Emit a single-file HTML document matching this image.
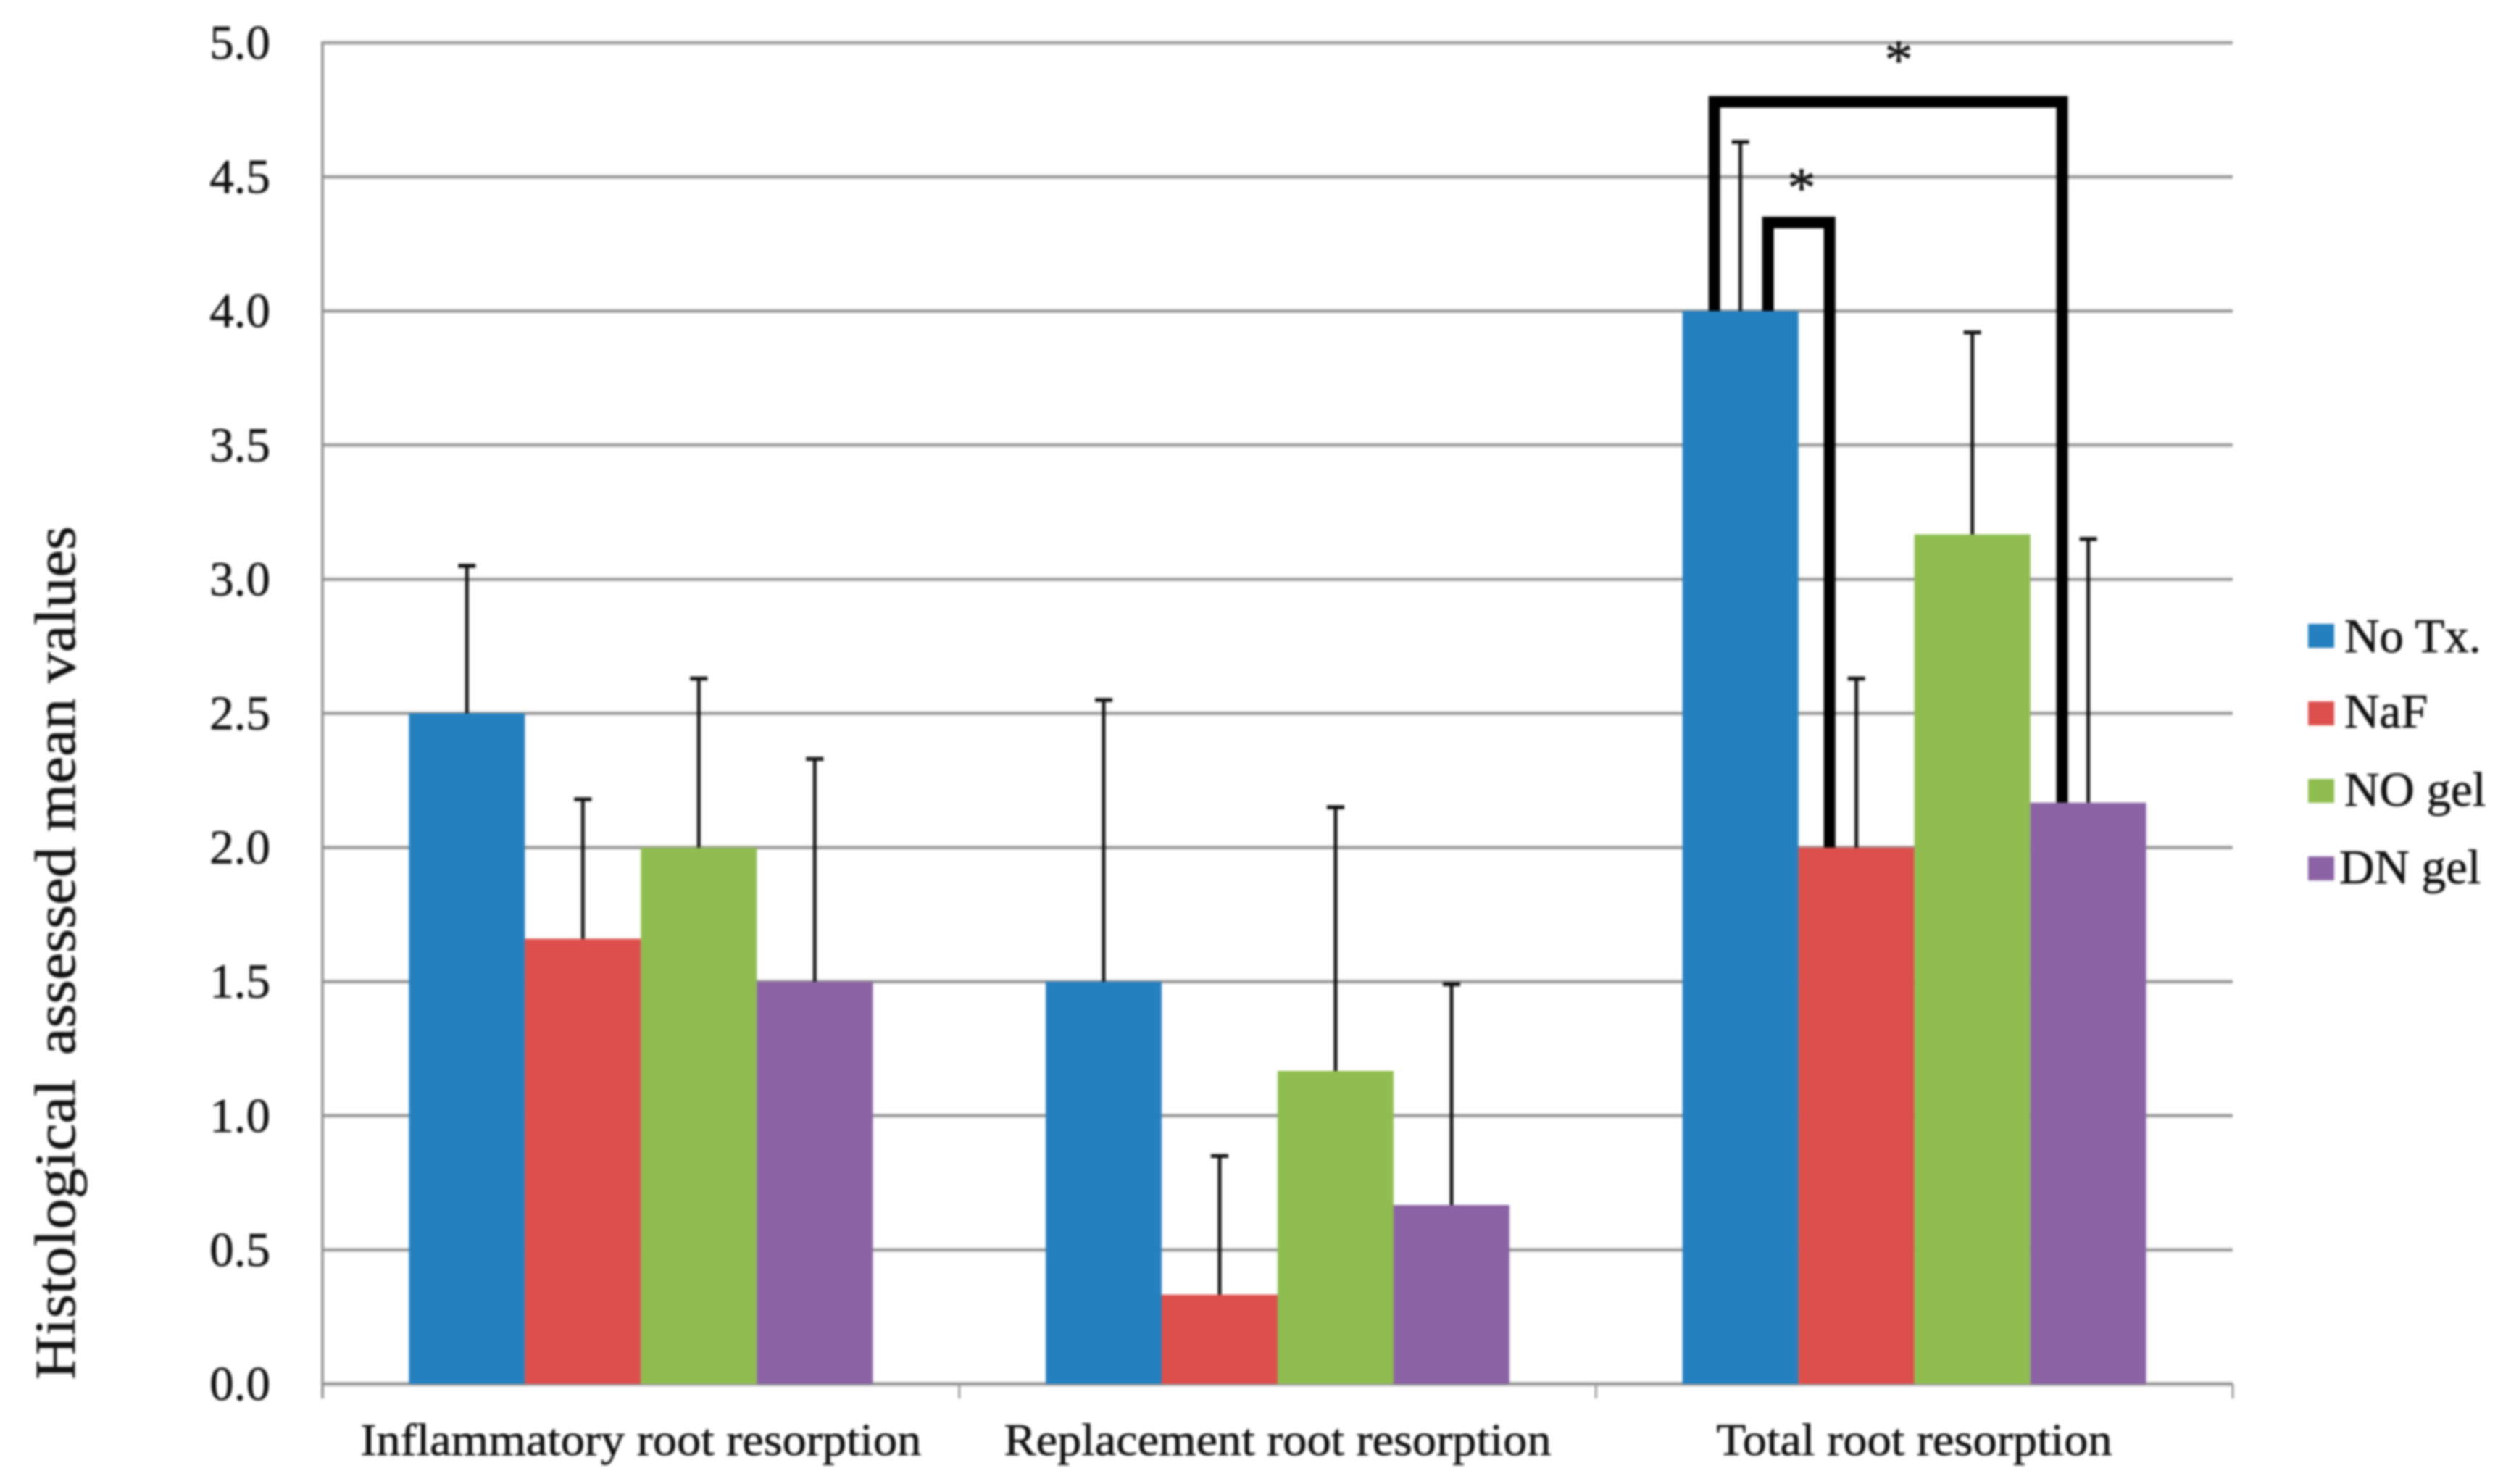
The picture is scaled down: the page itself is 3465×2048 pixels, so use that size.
<!DOCTYPE html>
<html lang="en">
<head>
<meta charset="utf-8">
<title>Histological assessed mean values</title>
<style>
  html, body { margin: 0; padding: 0; background: #ffffff; }
  body { width: 3465px; height: 2048px; overflow: hidden; }
  svg { display: block; filter: blur(1.5px); }
  text { font-family: "Liberation Serif", serif; fill: #111111; stroke: #111111; stroke-width: 0.7px; white-space: pre; }
</style>
</head>
<body>
<svg id="chart" xmlns="http://www.w3.org/2000/svg" width="3465" height="2048" viewBox="0 0 3465 2048"></svg>
<script>
const categories = ["Inflammatory root resorption", "Replacement root resorption", "Total root resorption"];
const seriesNames = ["No Tx.", "NaF", "NO gel", "DN gel"];
const seriesColors = ["#2580bf", "#dc4f4d", "#8fbd50", "#8b63a5"];
const noTxValues = [2.5, 1.5, 4.0];
const nafValues = [1.66, 0.333, 2.0];
const noGelValues = [2.0, 1.167, 3.167];
const dnGelValues = [1.5, 0.667, 2.167];
const noTxErrorTops = [3.05, 2.55, 4.63];
const nafErrorTops = [2.18, 0.85, 2.63];
const noGelErrorTops = [2.63, 2.15, 3.92];
const dnGelErrorTops = [2.33, 1.49, 3.15];
const tickLabels = ["0.0", "0.5", "1.0", "1.5", "2.0", "2.5", "3.0", "3.5", "4.0", "4.5", "5.0"];
const tickValues = [0, 0.5, 1, 1.5, 2, 2.5, 3, 3.5, 4, 4.5, 5];
const categoryLabelWidths = [774, 755, 546];
const bracketLevels = [4.78, 4.33];
const bracketEnds = [3, 1];

const seriesValues = [noTxValues, nafValues, noGelValues, dnGelValues];
const seriesErrorTops = [noTxErrorTops, nafErrorTops, noGelErrorTops, dnGelErrorTops];

const svg = document.getElementById('chart');
const NS = 'http://www.w3.org/2000/svg';
const plotLeft = 445, plotRight = 3081, plotBase = 1910, unitHeight = 370.2;
const barWidth = 160;
const groupWidth = (plotRight - plotLeft) / categories.length;
const bracketStartOffsets = [-36, 38];
const bracketEndOffsets = [-36, -37];
const starX = [2620, 2486];
const starLift = [32, 22];

function y(value) { return plotBase - value * unitHeight; }
function groupCenter(i) { return plotLeft + groupWidth * (i + 0.5); }
function barLeft(i, s) { return groupCenter(i) - barWidth * seriesValues.length / 2 + s * barWidth; }
function barCenter(i, s) { return barLeft(i, s) + barWidth / 2; }

function add(tag, props, text) {
  const el = document.createElementNS(NS, tag);
  for (const k in props) el.setAttribute(k, props[k]);
  if (text !== undefined) el.textContent = text;
  svg.appendChild(el);
  return el;
}

/* gridlines */
tickValues.forEach(function (v) {
  const line = add('line', { x1: plotLeft, x2: plotRight, y1: y(v), y2: y(v), stroke: '#989898', 'stroke-width': v === 0 ? 5 : 4.5 });
  
  
});

/* y axis line */
const yAxis = add('line', { x1: plotLeft, x2: plotLeft, y1: y(5) - 2, y2: plotBase + 20, stroke: '#989898', 'stroke-width': 4 });



/* x ticks */
for (let i = 1; i <= categories.length; i++) {
  const tx = plotLeft + groupWidth * i;
  const tick = add('line', { x1: tx, x2: tx, y1: plotBase, y2: plotBase + 20, stroke: '#989898', 'stroke-width': 3 });
  
  
}

/* y tick labels */
tickLabels.forEach(function (label, i) {
  const t = add('text', { x: 373, y: y(tickValues[i]) + 22, 'text-anchor': 'end', 'font-size': 67 }, label);
  
  
});

/* category labels */
categories.forEach(function (label, i) {
  const t = add('text', { x: groupCenter(i), y: 2008, 'text-anchor': 'middle', 'font-size': 62, textLength: categoryLabelWidths[i], lengthAdjust: 'spacingAndGlyphs' }, label);
  
  
});

/* bars */
seriesValues.forEach(function (values, s) {
  values.forEach(function (v, i) {
    const bar = add('rect', { x: barLeft(i, s), y: y(v), width: barWidth, height: plotBase - y(v), fill: seriesColors[s] });
    
    
  });
});

/* error bars */
seriesErrorTops.forEach(function (tops, s) {
  tops.forEach(function (top, i) {
    const cx = barCenter(i, s);
    const stem = add('line', { x1: cx, x2: cx, y1: y(seriesValues[s][i]), y2: y(top), stroke: '#111111', 'stroke-width': 5 });
    
    
    const cap = add('line', { x1: cx - 12, x2: cx + 12, y1: y(top), y2: y(top), stroke: '#111111', 'stroke-width': 5.5 });
    
    
  });
});

/* significance brackets (both in the third group, from the first series) */
bracketLevels.forEach(function (level, b) {
  const group = categories.length - 1;
  const endSeries = bracketEnds[b];
  const x1 = barCenter(group, 0) + bracketStartOffsets[b];
  const x2 = barCenter(group, endSeries) + bracketEndOffsets[b];
  const d = 'M' + x1 + ' ' + y(seriesValues[0][group]) + 'V' + y(level) + 'H' + x2 + 'V' + y(seriesValues[endSeries][group]);
  const path = add('path', { d: d, fill: 'none', stroke: '#000000', 'stroke-width': 16, 'stroke-linejoin': 'miter' });
  
  
  const star = add('text', { x: starX[b], y: y(level) - starLift[b], 'text-anchor': 'middle', 'font-size': 78 }, '*');
  
  
});

/* y axis title: the double space in the source is narrow in the reference */
const yTitle = add('text', { transform: 'translate(103 1904) rotate(-90)', 'font-size': 79, textLength: 1178, lengthAdjust: 'spacingAndGlyphs' });


const titleHead = document.createElementNS(NS, 'tspan');
titleHead.textContent = 'Histological';
yTitle.appendChild(titleHead);
const titleGap = document.createElementNS(NS, 'tspan');
titleGap.setAttribute('font-size', '62');
titleGap.textContent = '  ';
yTitle.appendChild(titleGap);
const titleTail = document.createElementNS(NS, 'tspan');
titleTail.textContent = 'assessed mean values';
yTitle.appendChild(titleTail);

/* legend */
const legendTop = [861, 968, 1075, 1182];
const legendBaseline = [900, 1004, 1112, 1219];
const legendTextX = [3235, 3235, 3235, 3228];
seriesNames.forEach(function (name, s) {
  const swatch = add('rect', { x: 3185, y: legendTop[s], width: 36, height: 33, fill: seriesColors[s] });
  
  
  const t = add('text', { x: legendTextX[s], y: legendBaseline[s], 'font-size': 67 }, name);
  
  
});
</script>
</body>
</html>
